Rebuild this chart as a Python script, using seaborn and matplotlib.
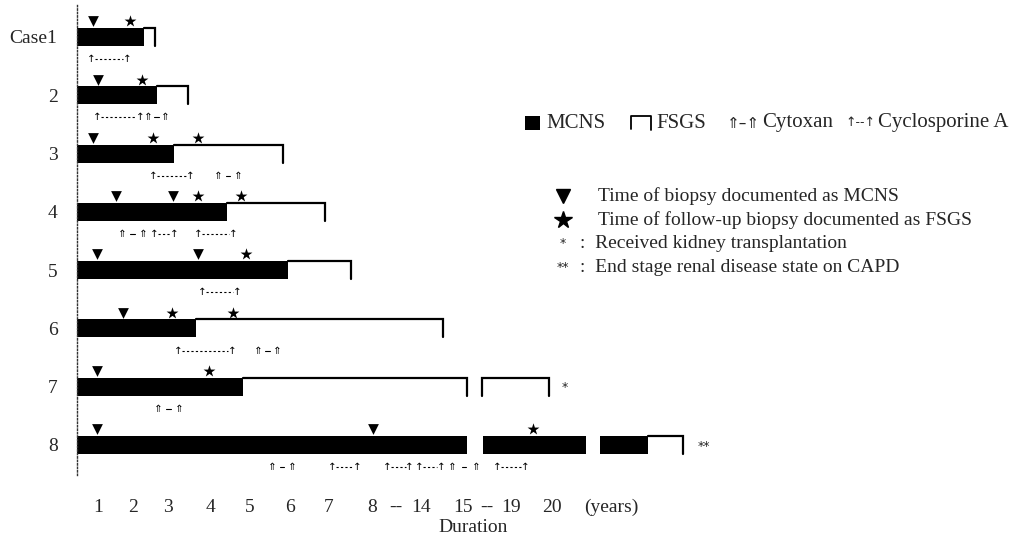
#!/usr/bin/env python
"""
Clinical course of 8 cases: MCNS -> FSGS transition timeline
"""

import pandas as pd
import matplotlib.pyplot as plt
import seaborn as sns
from matplotlib.lines import Line2D
from matplotlib.patches import Rectangle

sns.set_style("white")
plt.rcParams['font.family'] = ['Liberation Serif', 'DejaVu Serif']

# ----------------------------------------------------------------------------
# Data (x values are positions on the broken "Duration" axis)
# ----------------------------------------------------------------------------
cases = ['Case1', '2', '3', '4', '5', '6', '7', '8']

tick_pos = [1.02, 1.91, 2.80, 3.89, 4.88, 5.89, 6.88, 7.97, 8.58, 9.22,
            10.28, 10.89, 11.50, 12.54, 14.05]
tick_labels = ['1', '2', '3', '4', '5', '6', '7', '8', '--', '14',
               '15', '--', '19', '20', '(years)']

# black bars (MCNS)
mcns = [
    [(0.5, 2.19)],
    [(0.5, 2.52)],
    [(0.5, 2.95)],
    [(0.5, 4.30)],
    [(0.5, 5.84)],
    [(0.5, 3.51)],
    [(0.5, 4.70)],
    [(0.5, 10.38), (10.79, 13.40), (13.75, 14.97)],
]

# open brackets (FSGS)
fsgs = [
    [(2.19, 2.47)],
    [(2.52, 3.31)],
    [(2.95, 5.72)],
    [(4.30, 6.78)],
    [(5.84, 7.44)],
    [(3.51, 9.78)],
    [(4.70, 10.38), (10.77, 12.46)],
    [(14.97, 15.86)],
]

biopsy_mcns = [[0.90], [1.02], [0.90], [1.48, 2.92], [1.00, 3.56], [1.66], [1.00], [1.00, 8.00]]
biopsy_fsgs = [[1.84], [2.14], [2.42, 3.56], [3.56, 4.65], [4.78], [2.90, 4.45], [3.84], [12.06]]

cyclosporine = [
    [(0.85, 1.76)],
    [(1.00, 2.10)],
    [(2.42, 3.36)],
    [(2.44, 2.95), (3.56, 4.45)],
    [(3.66, 4.55)],
    [(3.05, 4.42)],
    [],
    [(6.96, 7.59), (8.36, 8.93), (9.17, 9.72), (11.14, 11.85)],
]
cytoxan = [
    [],
    [(2.30, 2.72)],
    [(4.07, 4.57)],
    [(1.63, 2.17)],
    [],
    [(5.08, 5.56)],
    [(2.55, 3.08)],
    [(5.44, 5.94), (10.00, 10.62)],
]

end_note = {6: ('*', 12.79), 7: ('**', 16.24)}

# ----------------------------------------------------------------------------
# Figure
# ----------------------------------------------------------------------------
W, H = 1022, 540
fig = plt.figure(figsize=(W / 100, H / 100), dpi=100)
ax = fig.add_axes([77 / W, 1 - 475 / H, (W - 77) / W, 470 / H])
ax.set_xlim(0.492, 24.46)
ax.set_ylim(7.515, -0.549)

bar_h = 0.31
for i in range(len(cases)):
    for x0, x1 in mcns[i]:
        ax.barh(i, x1 - x0, left=x0, height=bar_h, color='black', edgecolor='black', linewidth=0)
    mcns_ends = [round(e, 2) for _, e in mcns[i]]
    for x0, x1 in fsgs[i]:
        top, bot = i - bar_h / 2, i + bar_h / 2
        xs, ys = [x0, x1, x1], [top, top, bot]
        if round(x0, 2) not in mcns_ends:
            xs, ys = [x0] + xs, [bot] + ys
        ax.plot(xs, ys, color='black', lw=1.6, solid_joinstyle='miter')

# biopsy markers
tri_df = pd.DataFrame([(x, i - 0.27) for i, xs in enumerate(biopsy_mcns) for x in xs], columns=['x', 'y'])
star_df = pd.DataFrame([(x, i - 0.27) for i, xs in enumerate(biopsy_fsgs) for x in xs], columns=['x', 'y'])
sns.scatterplot(data=tri_df, x='x', y='y', marker='v', s=60, color='black', edgecolor='black', linewidth=0, ax=ax, legend=False)
sns.scatterplot(data=star_df, x='x', y='y', marker='*', s=80, color='black', edgecolor='black', linewidth=0, ax=ax, legend=False)

# treatment intervals
arrow_font = dict(fontsize=7.5, family=['DejaVu Sans'], ha='center', va='center', color='black')
for i in range(len(cases)):
    y = i + 0.38
    for x0, x1 in cyclosporine[i]:
        ax.text(x0, y, '\u2191', **arrow_font)
        ax.text(x1, y, '\u2191', **arrow_font)
        ax.plot([x0 + 0.1, x1 - 0.1], [y, y], color='black', lw=0.8, dashes=(2, 2))
    for x0, x1 in cytoxan[i]:
        ax.text(x0, y, '\u21d1', **arrow_font)
        ax.text(x1, y, '\u21d1', **arrow_font)
        xm = (x0 + x1) / 2
        ax.plot([xm - 0.06, xm + 0.06], [y, y], color='black', lw=0.8)

for i, (mark, x) in end_note.items():
    ax.text(x, i + 0.02, mark, fontsize=9, ha='left', va='center', family=['DejaVu Sans'])

# axes styling
for side in ['top', 'right', 'bottom']:
    ax.spines[side].set_visible(False)
ax.spines['left'].set_linestyle((0, (1, 1.5)))
ax.spines['left'].set_color('#333333')
ax.spines['left'].set_linewidth(1)
ax.set_xticks(tick_pos, tick_labels)
ax.set_yticks(range(len(cases)), cases)
ax.tick_params(axis='x', length=0, pad=17, labelsize=14)
ax.tick_params(axis='y', length=0, pad=14, labelsize=14)
ax.set_xlabel('')
ax.set_ylabel('')
fig.text(473 / W, 1 - 527 / H, 'Duration', ha='center', va='center', fontsize=14)

# ----------------------------------------------------------------------------
# Legend (drawn by hand like the original)
# ----------------------------------------------------------------------------
def fx(px):
    return px / W


def fy(py):
    return 1 - py / H


ly = 123
fig.patches.append(Rectangle((fx(525), fy(ly + 7)), 15 / W, 14 / H, transform=fig.transFigure,
                             facecolor='black', edgecolor='none'))
fig.text(fx(546), fy(ly), 'MCNS', fontsize=15, va='center')
fig.lines.append(Line2D([fx(631), fx(631), fx(651), fx(651)], [fy(ly + 6), fy(ly - 7), fy(ly - 7), fy(ly + 7)],
                        transform=fig.transFigure, color='black', lw=1.3))
fig.text(fx(656), fy(ly), 'FSGS', fontsize=15, va='center')
fig.text(fx(760), fy(ly), '\u21d1\u2013\u21d1', fontsize=11, ha='right', va='center', family=['DejaVu Sans'])
fig.text(fx(762), fy(ly), 'Cytoxan', fontsize=15, va='center')
fig.text(fx(875), fy(ly), '\u2191--\u2191', fontsize=9, ha='right', va='center', family=['DejaVu Sans'])
fig.text(fx(878), fy(ly), 'Cyclosporine A', fontsize=15, va='center')

rows = [196, 220, 243, 267]
fig.lines.append(Line2D([fx(563)], [fy(rows[0])], marker='v', ms=10, color='black', transform=fig.transFigure))
fig.lines.append(Line2D([fx(563)], [fy(rows[1])], marker='*', ms=13, color='black', transform=fig.transFigure))
fig.text(fx(563), fy(rows[2]), '*', fontsize=9, ha='center', va='center', family=['DejaVu Sans'])
fig.text(fx(563), fy(rows[3]), '**', fontsize=9, ha='center', va='center', family=['DejaVu Sans'])
fig.text(fx(598), fy(rows[0]), 'Time of biopsy documented as MCNS', fontsize=14, va='center')
fig.text(fx(598), fy(rows[1]), 'Time of follow-up biopsy documented as FSGS', fontsize=14, va='center')
fig.text(fx(580), fy(rows[2]), ':  Received kidney transplantation', fontsize=14, va='center')
fig.text(fx(580), fy(rows[3]), ':  End stage renal disease state on CAPD', fontsize=14, va='center')

plt.savefig('out.png', dpi=100)
